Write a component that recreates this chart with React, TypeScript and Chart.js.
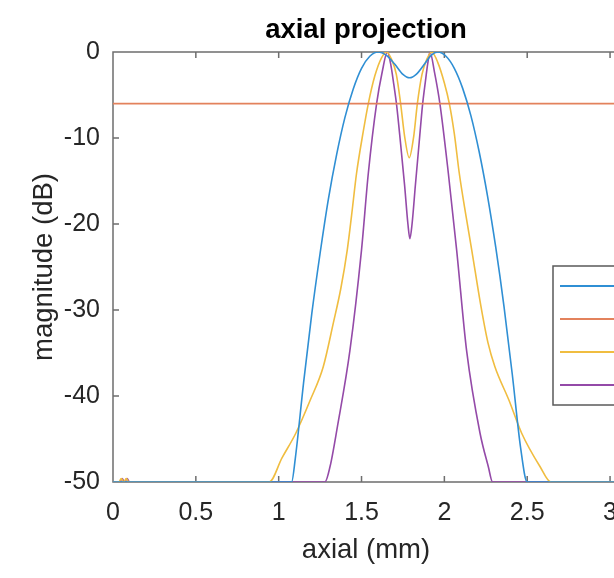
import React, { useEffect, useRef } from 'react';
import { Chart, registerables } from 'chart.js';

Chart.register(...registerables);

// ---- data ----
const X_MAX = 3.054;
const xTickValues = [0, 0.5, 1, 1.5, 2, 2.5, 3];
const xTickLabels = ['0', '0.5', '1', '1.5', '2', '2.5', '3'];
const yTickValues = [-50, -40, -30, -20, -10, 0];
const yTickLabels = ['-50', '-40', '-30', '-20', '-10', '0'];

const seriesLabels = ['data1', 'data2', 'data3', 'data4'];

const blueX = [0, 1.078, 1.10, 1.15, 1.20, 1.25, 1.30, 1.35, 1.40, 1.45, 1.50, 1.55, 1.60, 1.65, 1.70, 1.75, 1.79, 1.83, 1.88, 1.92, 1.96, 2.01, 2.06, 2.11, 2.16, 2.21, 2.26, 2.31, 2.36, 2.41, 2.46, 2.50, X_MAX];
const blueY = [-50, -50, -47.3, -38.5, -30.4, -23.4, -17.1, -11.9, -7.6, -4.3, -1.9, -0.5, 0, -0.4, -1.4, -2.6, -3.0, -2.6, -1.4, -0.4, 0, -0.5, -1.9, -4.2, -7.4, -11.6, -16.7, -22.7, -29.6, -37.5, -46.0, -50, -50];

const thresholdX = [0, X_MAX];
const thresholdY = [-6, -6];

const yellowX = [0, 0.035, 0.05, 0.065, 0.08, 0.095, 0.943, 1.02, 1.104, 1.19, 1.269, 1.33, 1.375, 1.414, 1.44, 1.47, 1.51, 1.541, 1.58, 1.62, 1.652, 1.68, 1.71, 1.736, 1.76, 1.788, 1.815, 1.837, 1.865, 1.895, 1.923, 1.96, 2.0, 2.03, 2.06, 2.09, 2.13, 2.165, 2.22, 2.263, 2.305, 2.39, 2.466, 2.577, 2.643, X_MAX];
const yellowY = [-50, -50, -49.6, -50, -49.6, -50, -50, -47.2, -44.3, -40.5, -36.6, -31.5, -27.5, -23.0, -19.0, -14.1, -9.3, -6.0, -2.8, -0.7, 0, -0.8, -2.6, -6.0, -9.8, -12.3, -9.8, -6.0, -2.6, -0.8, 0, -1.2, -3.6, -6.0, -9.5, -14.1, -19.0, -23.0, -29.5, -33.8, -36.6, -40.5, -44.3, -48.2, -50, -50];

const purpleX = [0, 0.04, 0.055, 0.07, 0.085, 0.1, 1.279, 1.31, 1.355, 1.43, 1.50, 1.541, 1.591, 1.625, 1.656, 1.675, 1.695, 1.712, 1.735, 1.76, 1.78, 1.792, 1.805, 1.825, 1.848, 1.868, 1.885, 1.90, 1.913, 1.94, 1.973, 2.024, 2.074, 2.134, 2.215, 2.265, 2.291, X_MAX];
const purpleY = [-50, -50, -49.6, -50, -49.6, -50, -50, -48.2, -43.5, -34.7, -23.0, -14.1, -6.0, -2.3, 0, -1.3, -3.8, -6.2, -10.5, -15.5, -20.0, -21.7, -20.0, -15.5, -10.5, -6.2, -3.5, -1.3, 0, -2.3, -6.0, -14.1, -23.0, -34.7, -44.3, -48.2, -50, -50];

// ---- styles ----
const COLORS = ['#2f8fd4', '#e3825c', '#f0bd40', '#944aa8'];
const AXIS_COLOR = '#6e6e6e';
const TEXT_COLOR = '#262626';
const FONT = "'Liberation Sans', Arial, Helvetica, sans-serif";
const CANVAS_W = 732;
const CANVAS_H = 578;

const toPoints = (xs: number[], ys: number[]) => xs.map((x, i) => ({ x, y: ys[i] }));

const framePlugin = {
  id: 'matlabFrame',
  beforeDatasetsDraw(chart: any) {
    const { ctx, chartArea, scales } = chart;
    const { left, right, top, bottom } = chartArea;
    const x = scales.x;
    const y = scales.y;
    const TICK = 6;
    ctx.save();
    ctx.strokeStyle = AXIS_COLOR;
    ctx.lineWidth = 1.5;
    ctx.beginPath();
    ctx.moveTo(left, top);
    ctx.lineTo(right, top);
    ctx.lineTo(right, bottom);
    ctx.lineTo(left, bottom);
    ctx.closePath();
    x.ticks.forEach((t: any) => {
      const px = x.getPixelForValue(t.value);
      ctx.moveTo(px, bottom);
      ctx.lineTo(px, bottom - TICK);
      ctx.moveTo(px, top);
      ctx.lineTo(px, top + TICK);
    });
    y.ticks.forEach((t: any) => {
      const py = y.getPixelForValue(t.value);
      ctx.moveTo(left, py);
      ctx.lineTo(left + TICK, py);
    });
    ctx.stroke();
    ctx.restore();
  },
};

const legendBoxPlugin = {
  id: 'matlabLegend',
  afterDraw(chart: any) {
    const { ctx } = chart;
    const boxLeft = 553;
    const boxTop = 266;
    const boxW = 170;
    const boxH = 139;
    ctx.save();
    ctx.fillStyle = '#ffffff';
    ctx.fillRect(boxLeft, boxTop, boxW, boxH);
    ctx.strokeStyle = '#5a5a5a';
    ctx.lineWidth = 1.5;
    ctx.strokeRect(boxLeft, boxTop, boxW, boxH);
    chart.data.datasets.forEach((ds: any, i: number) => {
      const ly = boxTop + 20 + i * 33;
      ctx.strokeStyle = ds.borderColor;
      ctx.lineWidth = 2;
      ctx.beginPath();
      ctx.moveTo(boxLeft + 7, ly);
      ctx.lineTo(boxLeft + 95, ly);
      ctx.stroke();
      ctx.fillStyle = TEXT_COLOR;
      ctx.font = `20px ${FONT}`;
      ctx.textBaseline = 'middle';
      ctx.fillText(ds.label, boxLeft + 102, ly);
    });
    ctx.restore();
  },
};

export default function App() {
  const canvasRef = useRef<HTMLCanvasElement | null>(null);

  useEffect(() => {
    if (!canvasRef.current) return;
    const mk = (label: string, xs: number[], ys: number[], color: string) => ({
      label,
      data: toPoints(xs, ys),
      borderColor: color,
      backgroundColor: color,
      borderWidth: 1.6,
      pointRadius: 0,
      cubicInterpolationMode: 'monotone',
      fill: false,
      yAxisID: 'y',
      xAxisID: 'x',
    });
    const chart = new Chart(canvasRef.current, {
      type: 'line',
      data: {
        datasets: [
          mk(seriesLabels[0], blueX, blueY, COLORS[0]),
          mk(seriesLabels[1], thresholdX, thresholdY, COLORS[1]),
          mk(seriesLabels[2], yellowX, yellowY, COLORS[2]),
          mk(seriesLabels[3], purpleX, purpleY, COLORS[3]),
        ],
      },
      options: {
        responsive: false,
        animation: false,
        layout: { padding: 0 },
        plugins: {
          legend: { display: false },
          tooltip: { enabled: false },
          title: {
            display: true,
            text: 'axial projection',
            color: '#000000',
            font: { family: FONT, size: 27.5, weight: 'bold' },
            padding: { top: 13.5, bottom: 5.5 },
          },
        },
        scales: {
          x: {
            type: 'linear',
            min: 0,
            max: X_MAX,
            grid: { display: false, drawTicks: false },
            border: { display: false },
            afterBuildTicks: (s: any) => {
              s.ticks = xTickValues.map((v) => ({ value: v }));
            },
            afterFit: (s: any) => {
              s.height = 96;
            },
            ticks: {
              color: TEXT_COLOR,
              font: { family: FONT, size: 25 },
              padding: 16,
              maxRotation: 0,
              autoSkip: false,
              callback: (v: any) => {
                const i = xTickValues.indexOf(Number(v));
                return i >= 0 ? xTickLabels[i] : '';
              },
            },
            title: {
              display: true,
              text: 'axial (mm)',
              color: TEXT_COLOR,
              font: { family: FONT, size: 27.5 },
              padding: { top: 0, bottom: 11.5 },
            },
          },
          y: {
            type: 'linear',
            min: -50,
            max: 0,
            grid: { display: false, drawTicks: false },
            border: { display: false },
            afterBuildTicks: (s: any) => {
              s.ticks = yTickValues.map((v) => ({ value: v }));
            },
            afterFit: (s: any) => {
              s.width = 113;
            },
            ticks: {
              color: TEXT_COLOR,
              font: { family: FONT, size: 25 },
              padding: 13,
              autoSkip: false,
              callback: (v: any) => {
                const i = yTickValues.indexOf(Number(v));
                return i >= 0 ? yTickLabels[i] : '';
              },
            },
            title: {
              display: true,
              text: 'magnitude (dB)',
              color: TEXT_COLOR,
              font: { family: FONT, size: 27.5 },
              padding: { top: 27.5, bottom: 0 },
            },
          },
          yRight: {
            type: 'linear',
            position: 'right',
            min: -50,
            max: 0,
            display: true,
            grid: { display: false, drawTicks: false },
            border: { display: false },
            ticks: { display: false },
            afterFit: (s: any) => {
              s.width = 113;
            },
          },
        },
      } as any,
      plugins: [framePlugin, legendBoxPlugin],
    });
    return () => chart.destroy();
  }, []);

  return (
    <div
      style={{
        position: 'fixed',
        left: 0,
        top: 0,
        width: 614,
        height: 578,
        overflow: 'hidden',
        background: '#ffffff',
      }}
    >
      <canvas
        ref={canvasRef}
        width={CANVAS_W}
        height={CANVAS_H}
        style={{ width: CANVAS_W, height: CANVAS_H, display: 'block' }}
      />
    </div>
  );
}
